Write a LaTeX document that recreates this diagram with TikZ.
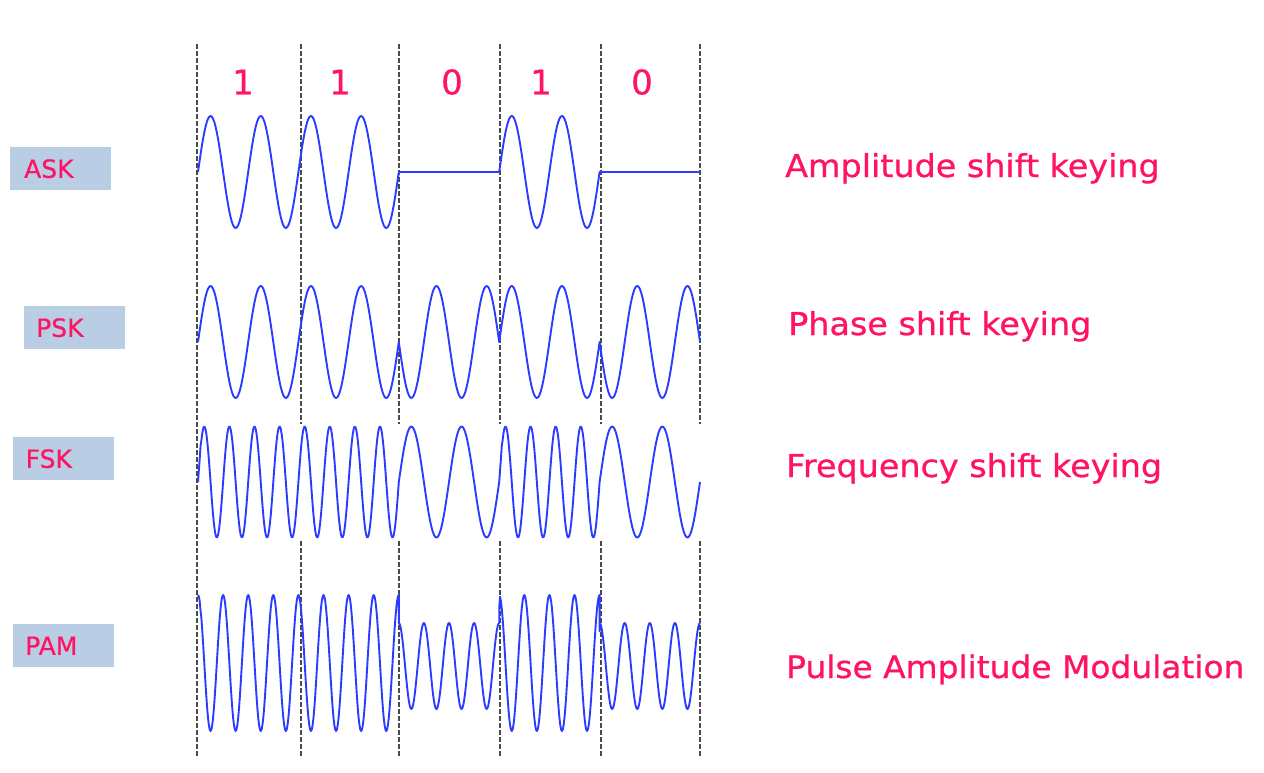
\documentclass[tikz,border=0pt]{standalone}
\usepackage{fontspec}
\setmainfont{DejaVu Sans}[FakeBold=0.6]
\newfontfamily\titlefont{DejaVu Sans}[FakeStretch=1.06, FakeBold=0.8]
\definecolor{txtpink}{HTML}{FF1464}
\definecolor{wavecol}{HTML}{2A3CFF}
\definecolor{boxblue}{HTML}{B9CDE4}
\definecolor{dashgray}{HTML}{4A4A4A}
\begin{document}
\begin{tikzpicture}[x=1pt,y=-1pt,
  wave/.style={draw=wavecol, line width=1.9pt, line join=round},
  divider/.style={draw=dashgray, line width=2pt, dash pattern=on 4.5pt off 2.5pt},
  tagbox/.style={fill=boxblue, minimum width=101pt, minimum height=43pt, anchor=north west, inner sep=0pt},
  tagtext/.style={text=txtpink, font=\fontsize{25}{30}\selectfont, inner sep=0pt, anchor=west},
  bitlbl/.style={text=txtpink, font=\fontsize{34}{40}\selectfont, inner sep=0pt},
  title/.style={text=txtpink, font=\titlefont\fontsize{31.5}{38}\selectfont, inner sep=0pt, anchor=base west}]
\useasboundingbox (0,0) rectangle (1264,772);

% bit dividers
\foreach \px/\nm in {197/d0,301/d1,399/d2,500/d3,601/d4,700/d5}{
  \coordinate (\nm t) at (\px,44);
  \coordinate (\nm b) at (\px,757);
  \draw[divider] (\nm t) -- (\nm b);
}
% white background of the FSK trace
\fill[white] (199,424) rectangle (707,539);

% bit values
\node[bitlbl] (bit1) at (243,82) {1};
\node[bitlbl] (bit2) at (340,82) {1};
\node[bitlbl] (bit3) at (452,82) {0};
\node[bitlbl] (bit4) at (541,82) {1};
\node[bitlbl] (bit5) at (642,82) {0};

% ASK
\draw[wave] plot[domain=198:398.8, samples=161] (\x,{172-56*sin((\x-198)/50.2*360)})
  -- (499.2,172)
  -- plot[domain=499.2:599.6, samples=81] (\x,{172-56*sin((\x-198)/50.2*360)})
  -- (700,172);

% PSK
\draw[wave] plot[domain=198:398.8, samples=161] (\x,{342-56*sin((\x-198)/50.2*360)})
  -- plot[domain=398.8:499.2, samples=81] (\x,{342+56*sin((\x-198)/50.2*360)})
  -- plot[domain=499.2:599.6, samples=81] (\x,{342-56*sin((\x-198)/50.2*360)})
  -- plot[domain=599.6:700, samples=81] (\x,{342+56*sin((\x-198)/50.2*360)});

% FSK
\draw[wave] plot[domain=198:398.8, samples=241] (\x,{482-55.5*sin((\x-198)/25.1*360)})
  -- plot[domain=398.8:499.2, samples=81] (\x,{482-55.5*sin((\x-398.8)/50.2*360)})
  -- plot[domain=499.2:599.6, samples=121] (\x,{482-55.5*sin((\x-499.2)/25.1*360)})
  -- plot[domain=599.6:700, samples=81] (\x,{482-55.5*sin((\x-599.6)/50.2*360)});

% PAM
\draw[wave] plot[domain=198:398.8, samples=241] (\x,{663-68*cos((\x-198)/25.1*360)})
  -- plot[domain=398.8:499.2, samples=121] (\x,{666-43*cos((\x-198)/25.1*360)})
  -- plot[domain=499.2:599.6, samples=121] (\x,{663-68*cos((\x-198)/25.1*360)})
  -- plot[domain=599.6:700, samples=121] (\x,{666-43*cos((\x-198)/25.1*360)});

% left tags
\node[tagbox] (ask) at (10,147) {};
\node[tagtext] (asklbl) at ([xshift=14pt]ask.west) {ASK};
\node[tagbox] (psk) at (24,306) {};
\node[tagtext] (psklbl) at ([xshift=12pt]psk.west) {PSK};
\node[tagbox] (fsk) at (13,437) {};
\node[tagtext] (fsklbl) at ([xshift=12.5pt]fsk.west) {FSK};
\node[tagbox] (pam) at (13,624) {};
\node[tagtext] (pamlbl) at ([xshift=12pt]pam.west) {PAM};

% right titles
\node[title] (askt) at (785,177) {Amplitude shift keying};
\node[title] (pskt) at (788,335) {Phase shift keying};
\node[title] (fskt) at (786,477) {Frequency shift keying};
\node[title, font=\titlefont\fontsize{31}{38}\selectfont] (pamt) at (786,678) {Pulse Amplitude Modulation};
\end{tikzpicture}
\end{document}
